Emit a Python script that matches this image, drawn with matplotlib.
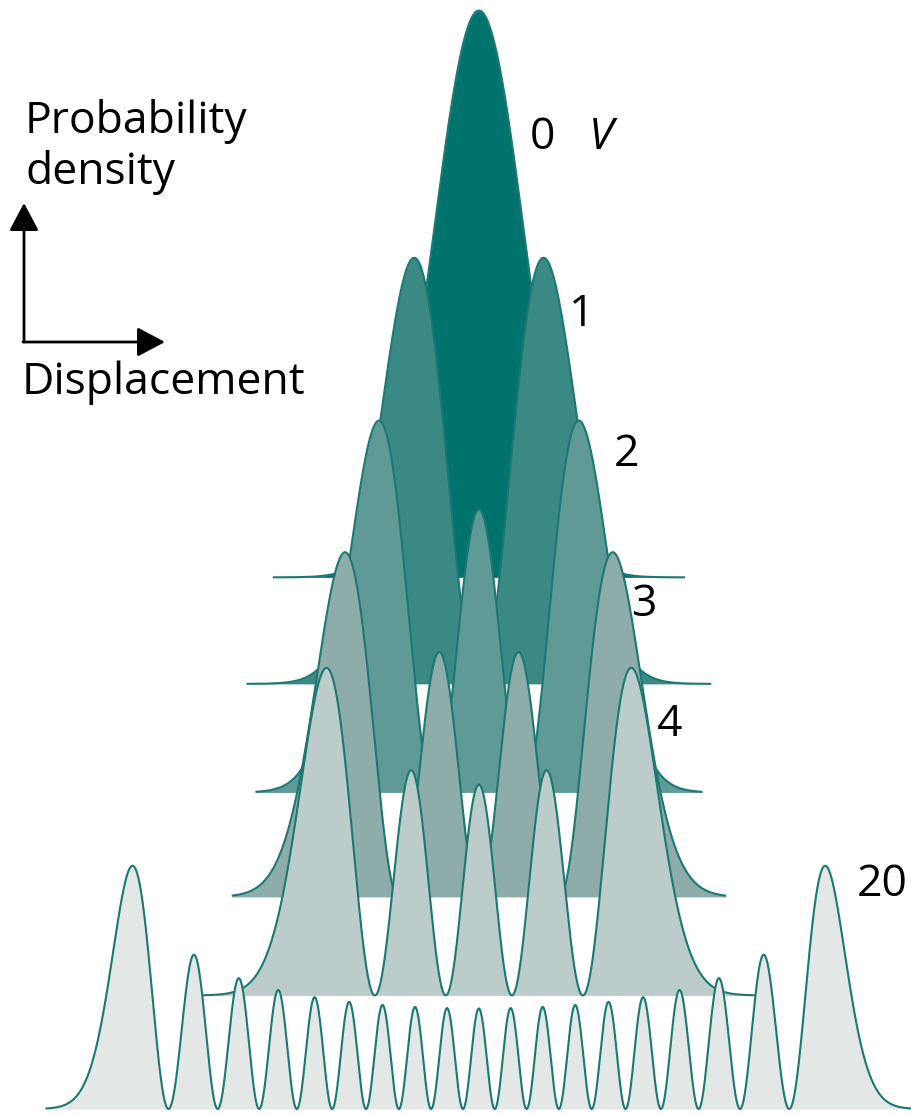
import numpy as np
import matplotlib
matplotlib.use('Agg')
import matplotlib.pyplot as plt

# vibrational quantum numbers and the number of humps counted on each trace
levels = ['0', '1', '2', '3', '4', '20']
humps = [1, 2, 3, 4, 5, 19]
# baseline and tallest hump of each trace, in probability-density units
baselines = [0.529, 0.423, 0.315, 0.211, 0.113, 0.0]
peak_heights = [0.564, 0.424, 0.370, 0.343, 0.326, 0.242]
# displacement of the outermost hump and half-width of each trace
outer_peak = [0.0, 1.01, 1.56, 2.09, 2.38, 5.41]
half_span = [3.22, 3.63, 3.49, 3.86, 4.31, 6.77]

fills = ['#00736c', '#3a8985', '#5f9a97', '#8eacaa', '#bcccca', '#e3e8e7']
edge = '#1b7872'

W, H = 911, 1115


def density(n, xi):
	# |psi_n|^2 of the harmonic oscillator, via the normalised recurrence
	p0 = np.pi ** -0.25 * np.exp(-xi ** 2 / 2)
	if n == 0:
		return p0 ** 2
	p1 = np.sqrt(2) * xi * p0
	for k in range(1, n):
		p0, p1 = p1, np.sqrt(2.0 / (k + 1)) * xi * p1 - np.sqrt(k / (k + 1.0)) * p0
	return p1 ** 2


fig = plt.figure(figsize=(W / 100, H / 100), dpi=100)
ax = fig.add_axes([0, 0, 1, 1])
ax.set_xlim(-7.48, 6.75)
ax.set_ylim(-0.006, 1.1035)
ax.axis('off')

grid = np.linspace(0, 10, 20001)
for i in range(len(levels)):
	n = humps[i] - 1
	d = density(n, grid)
	stretch = 1.0
	if n > 0:
		# outermost local maximum
		idx = np.where((d[1:-1] > d[:-2]) & (d[1:-1] >= d[2:]))[0] + 1
		stretch = outer_peak[i] / grid[idx[-1]]
	x = np.linspace(-half_span[i], half_span[i], 3000)
	y = density(n, x / stretch)
	y = y / d.max() * peak_heights[i]
	b = baselines[i]
	ax.fill_between(x, b, b + y, color=fills[i], lw=0, zorder=2 * i)
	ax.plot(x, b + y, color=edge, lw=1.5, zorder=2 * i + 1, solid_capstyle='butt')

font = 'Open Sans'
fs = 32

def fpx(x, y):
	return x / W, 1 - y / H

label_pos = [(542, 138), (582, 315), (627, 455), (645, 605), (670, 725), (882, 885)]
for lab, (px, py) in zip(levels, label_pos):
	fig.text(*fpx(px, py), lab, ha='center', va='center', fontsize=fs, family=font)
fig.text(*fpx(601, 138), 'V', ha='center', va='center', fontsize=fs, family=font, style='italic')

fig.text(*fpx(25, 133), 'Probability', ha='left', va='baseline', fontsize=fs, family=font)
fig.text(*fpx(25, 184), 'density', ha='left', va='baseline', fontsize=fs, family=font)
fig.text(*fpx(22, 394), 'Displacement', ha='left', va='baseline', fontsize=fs, family=font)

aprops = dict(arrowstyle='-|>,head_length=0.85,head_width=0.45', lw=2, color='black',
	shrinkA=0, shrinkB=0, mutation_scale=20)
ax.annotate('', xy=(24, H - 203), xytext=(24, H - 342), xycoords='figure pixels', arrowprops=aprops)
ax.annotate('', xy=(165, H - 342), xytext=(23, H - 342), xycoords='figure pixels', arrowprops=aprops)

fig.savefig('out.png', dpi=100)
